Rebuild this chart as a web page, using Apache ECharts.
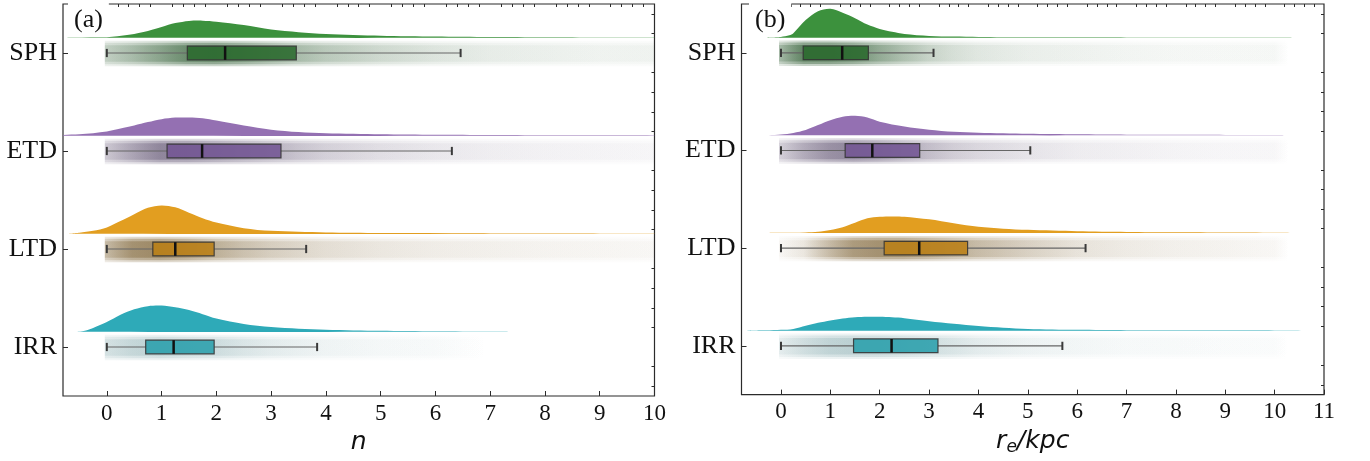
<!DOCTYPE html>
<html>
<head>
<meta charset="utf-8">
<script src="https://cdn.jsdelivr.net/npm/echarts@6/dist/echarts.min.js"></script>
<style>
html, body { margin: 0; padding: 0; background: #fff; }
#main { width: 1370px; height: 461px; }
</style>
</head>
<body>
<div id="main"></div>
<script>
// categories, top to bottom
let categories = ['SPH', 'ETD', 'LTD', 'IRR'];
let xTicksA = [0, 1, 2, 3, 4, 5, 6, 7, 8, 9, 10];
let xTicksB = [0, 1, 2, 3, 4, 5, 6, 7, 8, 9, 10, 11];
let yTicks = [0, 1, 2, 3];

// box stats, panel (a): n
let lowA = [0, 0, 0, 0];
let q1A = [1.47, 1.10, 0.84, 0.71];
let medA = [2.16, 1.74, 1.25, 1.22];
let q3A = [3.46, 3.18, 1.96, 1.96];
let highA = [6.46, 6.30, 3.64, 3.84];

// box stats, panel (b): r_e / kpc
let lowB = [0, 0, 0, 0];
let q1B = [0.45, 1.30, 2.09, 1.47];
let medB = [1.24, 1.85, 2.80, 2.24];
let q3B = [1.77, 2.81, 3.78, 3.18];
let highB = [3.09, 5.05, 6.17, 5.70];

// half violins (kde), [x, height]
let kdeA_SPH = [[-0.8,0],[-0.6,0.003],[0,0.005],[0.1,0.01],[0.5,0.04],[0.75,0.07],[1,0.11],[1.25,0.15],[1.5,0.172],[1.75,0.175],[2,0.165],[2.5,0.13],[3,0.085],[3.5,0.058],[4,0.04],[5,0.022],[6,0.013],[7,0.008],[8,0.006],[9,0.004],[10,0.003],[10,0]];
let kdeA_ETD = [[-0.8,0],[-0.79,0.008],[-0.5,0.015],[0,0.045],[0.25,0.075],[0.5,0.105],[0.75,0.14],[1,0.17],[1.25,0.186],[1.5,0.187],[1.75,0.178],[2,0.155],[2.5,0.105],[3,0.062],[3.5,0.038],[4,0.025],[5,0.015],[6,0.01],[7,0.008],[8,0.006],[9,0.005],[10,0.004],[10,0]];
let kdeA_LTD = [[-0.72,0],[-0.5,0.012],[-0.25,0.03],[0,0.065],[0.25,0.13],[0.5,0.2],[0.75,0.265],[1,0.29],[1.25,0.27],[1.5,0.215],[1.75,0.16],[2,0.115],[2.5,0.058],[3,0.03],[3.5,0.02],[4,0.014],[5,0.009],[6,0.007],[7,0.006],[8,0.005],[9,0.004],[10,0.003],[10,0]];
let kdeA_IRR = [[-0.56,0],[-0.4,0.012],[-0.25,0.04],[0,0.1],[0.25,0.175],[0.5,0.23],[0.75,0.262],[1,0.268],[1.25,0.25],[1.5,0.222],[1.75,0.18],[2,0.135],[2.5,0.08],[3,0.048],[3.5,0.032],[4,0.022],[5,0.01],[6,0.005],[7,0.002],[7.42,0]];

let kdeB_SPH = [[-0.33,0],[0,0.008],[0.17,0.024],[0.25,0.045],[0.5,0.18],[0.75,0.27],[1,0.296],[1.25,0.255],[1.5,0.2],[1.75,0.135],[2,0.09],[2.25,0.06],[2.5,0.038],[3,0.018],[3.5,0.011],[4,0.008],[5,0.005],[6,0.004],[7,0.003],[8,0.003],[9,0.002],[10,0.002],[10.4,0]];
let kdeB_ETD = [[-0.55,0],[-0.25,0.002],[0,0.008],[0.25,0.025],[0.5,0.055],[0.75,0.105],[1,0.155],[1.25,0.19],[1.5,0.2],[1.75,0.183],[2,0.14],[2.5,0.09],[3,0.058],[3.5,0.036],[4,0.026],[5,0.015],[6,0.01],[7,0.007],[8,0.005],[9,0.004],[10,0.003],[10.3,0]];
let kdeB_LTD = [[-0.3,0],[0,0.002],[0.5,0.006],[0.75,0.012],[1,0.03],[1.25,0.06],[1.5,0.105],[1.75,0.15],[2,0.166],[2.25,0.17],[2.5,0.167],[3,0.14],[3.5,0.1],[4,0.063],[4.5,0.044],[5,0.032],[6,0.018],[7,0.011],[8,0.007],[9,0.005],[10,0.003],[10.5,0]];
let kdeB_IRR = [[-0.67,0],[-0.3,0.003],[0,0.008],[0.25,0.018],[0.5,0.05],[0.75,0.08],[1,0.105],[1.25,0.125],[1.5,0.138],[1.75,0.143],[2,0.142],[2.25,0.137],[2.5,0.128],[3,0.097],[3.5,0.07],[4,0.047],[4.5,0.03],[5,0.018],[6,0.008],[7,0.005],[8,0.004],[9,0.003],[10,0.002],[10.67,0]];

// jittered points, read as relative density along x
let rainXA = [0, 0.5, 1, 1.5, 2, 2.5, 3, 3.5, 4, 5, 6, 7, 8, 9, 10];
let rainA_SPH = [0.3, 0.45, 0.65, 0.9, 0.95, 0.8, 0.62, 0.45, 0.35, 0.24, 0.16, 0.11, 0.09, 0.07, 0.07];
let rainA_ETD = [0.3, 0.55, 0.8, 0.8, 0.68, 0.56, 0.45, 0.34, 0.26, 0.18, 0.12, 0.09, 0.07, 0.06, 0.05];
let rainA_LTD = [0.45, 0.85, 0.95, 0.78, 0.56, 0.42, 0.32, 0.26, 0.21, 0.15, 0.11, 0.09, 0.07, 0.06, 0.05];
let rainA_IRR = [0.25, 0.35, 0.4, 0.35, 0.3, 0.22, 0.16, 0.12, 0.09, 0.06, 0.04, 0, 0, 0, 0];

let rainXB = [0, 0.5, 1, 1.5, 2, 2.5, 3, 3.5, 4, 5, 6, 7, 8, 9, 10, 10.3];
let rainB_SPH = [0.45, 1, 1, 0.85, 0.6, 0.42, 0.28, 0.2, 0.15, 0.1, 0.08, 0.06, 0.05, 0.045, 0.04, 0];
let rainB_ETD = [0.25, 0.5, 0.7, 0.8, 0.68, 0.52, 0.38, 0.28, 0.22, 0.15, 0.1, 0.08, 0.06, 0.05, 0.04, 0];
let rainB_LTD = [0.05, 0.15, 0.45, 0.75, 0.85, 0.85, 0.72, 0.58, 0.46, 0.3, 0.18, 0.12, 0.09, 0.07, 0.05, 0];
let rainB_IRR = [0.15, 0.28, 0.38, 0.42, 0.4, 0.35, 0.28, 0.22, 0.16, 0.1, 0.07, 0.05, 0.04, 0.03, 0.025, 0];

// colours
let violinColors = ['#3c913d', '#9470b2', '#e29e20', '#2eaab8'];
let boxColors = ['#2a6a2d', '#735594', '#bb7f16', '#2a9fac'];
let rainColors = [[28, 78, 32], [70, 54, 90], [110, 80, 28], [66, 124, 130]];

let chart = echarts.init(document.getElementById('main'));

let minor = function (from, to) {
    let out = [];
    for (let k = from; k <= to; k++) {
        if (k % 5 !== 0) out.push(k / 5);
    }
    return out;
};
let xMinorA = minor(-3, 49);
let xMinorB = minor(-3, 54);
let yMinor = minor(-2, 17);

let serif = 'Liberation Serif';
let axisCol = '#2b2b2b';

function xAxes(grid, max, ticks, minorTicks, name, nameStyle) {
    return [{
        gridIndex: grid, type: 'value', min: -0.8, max: max,
        axisLine: { show: false, onZero: false }, splitLine: { show: false },
        axisTick: { inside: true, length: 5, customValues: ticks, lineStyle: { color: axisCol } },
        axisLabel: { customValues: ticks, fontFamily: serif, fontSize: 23, color: '#111', margin: 6 },
        name: name, nameLocation: 'middle', nameGap: 30, nameTextStyle: nameStyle
    }, {
        gridIndex: grid, type: 'value', min: -0.8, max: max,
        axisLine: { show: false, onZero: false }, splitLine: { show: false },
        axisTick: { inside: true, length: 3, customValues: minorTicks, lineStyle: { color: axisCol } },
        axisLabel: { show: false }
    }];
}

function yAxes(grid) {
    return [{
        gridIndex: grid, type: 'value', inverse: true, min: -0.5, max: 3.5,
        axisLine: { show: false, onZero: false }, splitLine: { show: false },
        axisTick: { inside: true, length: 5, customValues: yTicks, lineStyle: { color: axisCol } },
        axisLabel: {
            customValues: yTicks, fontFamily: serif, fontSize: 26, color: '#111', margin: 6,
            formatter: function (v) { return categories[Math.round(v)]; }
        }
    }, {
        gridIndex: grid, type: 'value', inverse: true, min: -0.5, max: 3.5,
        axisLine: { show: false, onZero: false }, splitLine: { show: false },
        axisTick: { inside: true, length: 3, customValues: yMinor, lineStyle: { color: axisCol } },
        axisLabel: { show: false }
    }];
}

function rainSeries(grid, xs, dens) {
    return {
        type: 'custom', xAxisIndex: grid * 2, yAxisIndex: grid * 2, clip: true, z: 1,
        data: categories.map(function (c, i) { return [xs[0], i]; }),
        renderItem: function (params, api) {
            let i = params.dataIndex;
            let x0 = xs[0], x1 = xs[xs.length - 1];
            let c = rainColors[i];
            let layers = [[0.13, 0.25], [0.11, 0.35], [0.085, 0.38]];
            let children = layers.map(function (l) {
                let a = api.coord([x0, i + 0.005 - l[0]]);
                let b = api.coord([x1, i + 0.005 + l[0]]);
                let stops = xs.map(function (x, k) {
                    return { offset: (x - x0) / (x1 - x0), color: 'rgba(' + c.join(',') + ',' + (dens[i][k] * l[1]).toFixed(3) + ')' };
                });
                return {
                    type: 'rect',
                    shape: { x: a[0] - 2, y: a[1], width: b[0] - a[0] + 2, height: b[1] - a[1] },
                    style: { fill: new echarts.graphic.LinearGradient(0, 0, 1, 0, stops) }
                };
            });
            return { type: 'group', children: children };
        }
    };
}

function violinSeries(grid, kdes) {
    return {
        type: 'custom', xAxisIndex: grid * 2, yAxisIndex: grid * 2, clip: true, z: 2,
        data: categories.map(function (c, i) { return [kdes[i][0][0], i]; }),
        renderItem: function (params, api) {
            let i = params.dataIndex;
            let pts = kdes[i].map(function (p) { return api.coord([p[0], i - 0.155 - p[1]]); });
            return {
                type: 'polygon',
                shape: { points: pts, smooth: 0.3 },
                style: { fill: violinColors[i] }
            };
        }
    };
}

function boxSeries(grid, low, q1, med, q3, high) {
    return {
        type: 'custom', xAxisIndex: grid * 2, yAxisIndex: grid * 2, clip: true, z: 3,
        data: categories.map(function (c, i) { return [med[i], i, low[i], q1[i], q3[i], high[i]]; }),
        renderItem: function (params, api) {
            let i = params.dataIndex;
            let pLow = api.coord([low[i], i]), pQ1 = api.coord([q1[i], i]);
            let pQ3 = api.coord([q3[i], i]), pHigh = api.coord([high[i], i]);
            let pMed = api.coord([med[i], i]);
            let hb = api.size([0, 0.07])[1];
            let hc = api.size([0, 0.042])[1];
            let y = pQ1[1];
            return {
                type: 'group',
                children: [
                    { type: 'line', shape: { x1: pLow[0], y1: y, x2: pQ1[0], y2: y }, style: { stroke: '#666', lineWidth: 1.2 } },
                    { type: 'line', shape: { x1: pQ3[0], y1: y, x2: pHigh[0], y2: y }, style: { stroke: '#666', lineWidth: 1.2 } },
                    { type: 'line', shape: { x1: pLow[0], y1: y - hc, x2: pLow[0], y2: y + hc }, style: { stroke: '#3a3a3a', lineWidth: 2 } },
                    { type: 'line', shape: { x1: pHigh[0], y1: y - hc, x2: pHigh[0], y2: y + hc }, style: { stroke: '#3a3a3a', lineWidth: 2 } },
                    { type: 'rect', shape: { x: pQ1[0], y: y - hb, width: pQ3[0] - pQ1[0], height: 2 * hb },
                      style: { fill: boxColors[i], opacity: 0.88, stroke: '#333', lineWidth: 1.2 } },
                    { type: 'line', shape: { x1: pMed[0], y1: y - hb, x2: pMed[0], y2: y + hb }, style: { stroke: '#111', lineWidth: 2.5 } }
                ]
            };
        }
    };
}

let nameFont = { fontFamily: 'DejaVu Sans', fontStyle: 'italic', fontSize: 25, color: '#111' };

let option = {
    animation: false,
    backgroundColor: '#fff',
    title: [
        { text: '(a)', left: 68, top: 0, padding: [7, 6, 1, 6], backgroundColor: '#fff',
          textStyle: { fontFamily: serif, fontSize: 26, fontWeight: 'normal', color: '#111', lineHeight: 26 } },
        { text: '(b)', left: 749, top: 0, padding: [7, 6, 1, 6], backgroundColor: '#fff',
          textStyle: { fontFamily: serif, fontSize: 26, fontWeight: 'normal', color: '#111', lineHeight: 26 } }
    ],
    grid: [
        { left: 63, top: 4, width: 591.5, height: 392, show: true, borderColor: axisCol, borderWidth: 1.2 },
        { left: 741.5, top: 4, width: 582.5, height: 392, show: true, borderColor: axisCol, borderWidth: 1.2 }
    ],
    xAxis: xAxes(0, 10, xTicksA, xMinorA, 'n', nameFont).concat(
        xAxes(1, 11, xTicksB, xMinorB, '{i|r}{s|e}{i|/kpc}', {
            rich: {
                i: { fontFamily: 'DejaVu Sans', fontStyle: 'italic', fontSize: 25, color: '#111', lineHeight: 30 },
                s: { fontFamily: 'DejaVu Sans', fontStyle: 'italic', fontSize: 17, color: '#111', lineHeight: 18, verticalAlign: 'bottom' }
            }
        })),
    yAxis: yAxes(0).concat(yAxes(1)),
    series: [
        rainSeries(0, rainXA, [rainA_SPH, rainA_ETD, rainA_LTD, rainA_IRR]),
        violinSeries(0, [kdeA_SPH, kdeA_ETD, kdeA_LTD, kdeA_IRR]),
        boxSeries(0, lowA, q1A, medA, q3A, highA),
        rainSeries(1, rainXB, [rainB_SPH, rainB_ETD, rainB_LTD, rainB_IRR]),
        violinSeries(1, [kdeB_SPH, kdeB_ETD, kdeB_LTD, kdeB_IRR]),
        boxSeries(1, lowB, q1B, medB, q3B, highB)
    ]
};
chart.setOption(option);
</script>
</body>
</html>
